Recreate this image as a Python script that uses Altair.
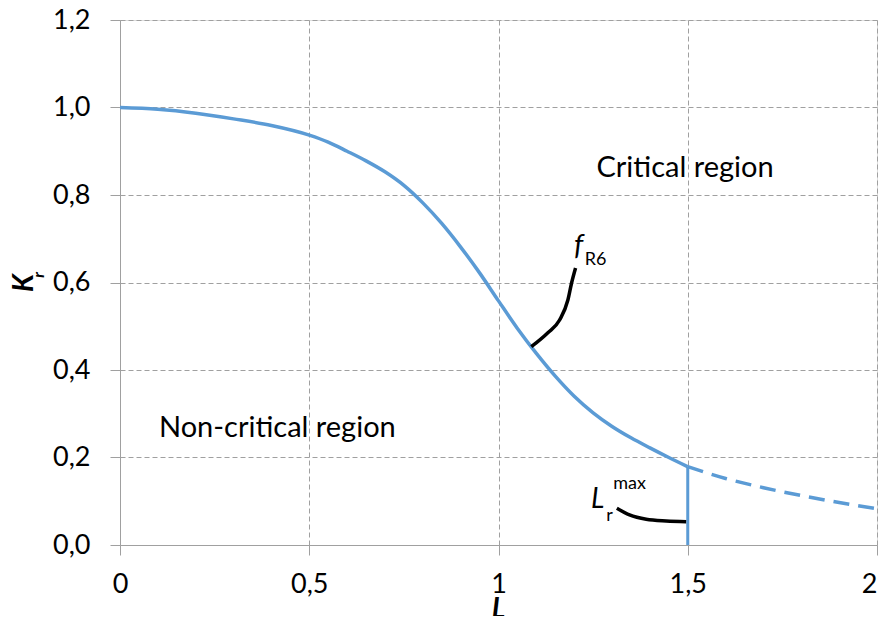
import altair as alt
import pandas as pd

# Failure assessment curve f_R6 (solid, up to Lr_max)
lr_solid = [0.0, 0.1, 0.2, 0.3, 0.4, 0.5, 0.55, 0.6, 0.65, 0.7, 0.75, 0.8, 0.85, 0.9, 0.95,
            1.0, 1.05, 1.1, 1.15, 1.2, 1.25, 1.3, 1.35, 1.4, 1.45, 1.5]
kr_solid = [1.000, 0.996, 0.987, 0.974, 0.959, 0.937, 0.921, 0.900, 0.878, 0.853, 0.822, 0.782,
            0.735, 0.681, 0.622, 0.558, 0.495, 0.438, 0.386, 0.340, 0.302, 0.271, 0.245, 0.222,
            0.200, 0.179]
# continuation beyond Lr_max (dashed)
lr_dash = [1.5, 1.6, 1.7, 1.8, 1.9, 2.0]
kr_dash = [0.179, 0.152, 0.131, 0.113, 0.097, 0.083]
# Lr_max cut-off
lr_max_x = [1.5, 1.5]
lr_max_y = [0.0, 0.179]
# leader lines
lead_f_x = [1.0867, 1.1297, 1.1614, 1.1833, 1.1931, 1.2036]
lead_f_y = [0.4533, 0.4846, 0.5143, 0.5600, 0.5989, 0.6331]
lead_l_x = [1.3127, 1.3462, 1.3903, 1.4431, 1.4958]
lead_l_y = [0.0839, 0.0686, 0.0587, 0.0549, 0.0533]

y_ticks = [0.0, 0.2, 0.4, 0.6, 0.8, 1.0, 1.2]
x_ticks = [0.0, 0.5, 1.0, 1.5, 2.0]

FONT = "Lato"
BLUE = "#5B9BD5"
GRAY = "#A0A0A0"

xscale = alt.Scale(domain=[0, 2], nice=False, zero=False)
yscale = alt.Scale(domain=[0, 1.2], nice=False, zero=False)

xaxis = alt.Axis(values=x_ticks, title="", labelExpr="replace(toString(datum.value), '.', ',')",
                 grid=True, gridDash=[5, 3], gridColor=GRAY, gridWidth=1,
                 domainColor=GRAY, tickColor=GRAY, tickSize=10, labelPadding=16,
                 labelFont=FONT, labelFontSize=27, labelColor="black",
                 labelAlign={"condition": {"test": "datum.value == 2", "value": "right"}, "value": "center"})
yaxis = alt.Axis(values=y_ticks, title="", labelExpr="replace(format(datum.value, '.1f'), '.', ',')",
                 grid=True, gridDash=[5, 3], gridColor=GRAY, gridWidth=1,
                 domainColor=GRAY, tickColor=GRAY, tickSize=10, labelPadding=20,
                 labelFont=FONT, labelFontSize=27, labelColor="black")

df_solid = pd.DataFrame({"lr": lr_solid, "kr": kr_solid})
df_dash = pd.DataFrame({"lr": lr_dash, "kr": kr_dash})
df_max = pd.DataFrame({"lr": lr_max_x, "kr": lr_max_y})
df_lf = pd.DataFrame({"lr": lead_f_x, "kr": lead_f_y})
df_ll = pd.DataFrame({"lr": lead_l_x, "kr": lead_l_y})

solid = alt.Chart(df_solid).mark_line(color=BLUE, strokeWidth=3.5, interpolate="monotone").encode(
    x=alt.X("lr:Q", scale=xscale, axis=xaxis),
    y=alt.Y("kr:Q", scale=yscale, axis=yaxis),
)
dash = alt.Chart(df_dash).mark_line(color=BLUE, strokeWidth=3.5, strokeDash=[16, 9],
                                    interpolate="monotone").encode(x="lr:Q", y="kr:Q")
vmax = alt.Chart(df_max).mark_line(color=BLUE, strokeWidth=3).encode(x="lr:Q", y="kr:Q")
lead_f = alt.Chart(df_lf).mark_line(color="black", strokeWidth=3.5, interpolate="monotone").encode(
    x="lr:Q", y="kr:Q")
lead_l = alt.Chart(df_ll).mark_line(color="black", strokeWidth=3.5, interpolate="monotone").encode(
    x="lr:Q", y="kr:Q")


def label(x, y, text, size, style="normal", weight="normal", align="left", baseline="alphabetic"):
    df = pd.DataFrame({"lr": [x], "kr": [y], "t": [text]})
    return alt.Chart(df).mark_text(font=FONT, fontSize=size, fontStyle=style, fontWeight=weight,
                                   align=align, baseline=baseline, color="black").encode(
        x="lr:Q", y="kr:Q", text="t:N")


crit = label(1.259, 0.841, "Critical region", 29)
noncrit = label(0.103, 0.246, "Non-critical region", 29)
f_lab = label(1.2115, 0.683, "f", 29, style="italic", align="center", baseline="middle")
r6_lab = label(1.2564, 0.651, "R6", 18, align="center", baseline="middle")
l_lab = label(1.2617, 0.1029, "L", 28, style="italic", align="center", baseline="middle")
lr_sub = label(1.2934, 0.0663, "r", 18, align="center", baseline="middle")
max_lab = label(1.3462, 0.1394, "max", 18, align="center", baseline="middle")


def ptext(px, py, text, size, style="italic", weight="bold", angle=0, align="center",
          baseline="middle"):
    df = pd.DataFrame({"t": [text]})
    return alt.Chart(df).mark_text(font=FONT, fontSize=size, fontStyle=style, fontWeight=weight,
                                   align=align, baseline=baseline, angle=angle,
                                   color="black").encode(
        x=alt.value(px), y=alt.value(py), text="t:N")


k_title = ptext(-95, 263, "K", 28, angle=270)
k_sub = ptext(-81, 255, "r", 16, angle=270)
l_title = ptext(378.5, 590, "L", 28, baseline="middle")
l_sub = ptext(391, 600, "r", 16, baseline="middle")

chart = alt.layer(
    solid, dash, vmax, lead_f, lead_l, crit, noncrit, f_lab, r6_lab, l_lab, lr_sub, max_lab,
    k_title, k_sub, l_title, l_sub
).properties(
    width=757, height=525,
    autosize=alt.AutoSizeParams(type="none"),
    padding={"left": 112, "top": 12, "right": 1, "bottom": 71},
).configure_view(strokeWidth=0).configure(background="white")

chart.save("out.html", embed_options={"renderer": "svg", "actions": False})
